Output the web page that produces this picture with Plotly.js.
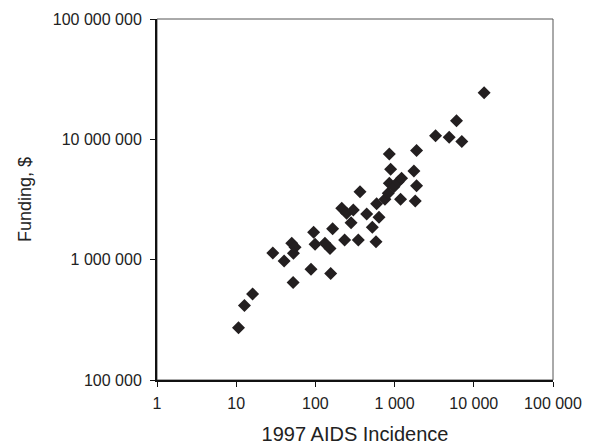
<!DOCTYPE html>
<html>
<head>
<meta charset="utf-8">
<script src="https://cdn.plot.ly/plotly-3.0.1.min.js"></script>
<style>html,body{margin:0;padding:0;background:#fff;}#chart{width:594px;height:445px;}</style>
</head>
<body>
<div id="chart"></div>
<script>
// 1997 AIDS incidence (x) vs funding in $ (y)
const incidence = [10.7, 12.7, 16.1, 29, 40.3, 50.3, 55.4, 52.8, 52.3, 88, 95, 99, 132, 153, 156, 165,
  215, 234, 248, 301, 282, 348, 366, 444, 523, 582, 593, 635, 755, 832, 857, 891, 857, 981, 1113, 1225,
  1190, 1753, 1894, 1894, 1822, 3288, 4890, 6050, 7060, 13500];
const funding = [272000, 417000, 519000, 1135000, 975000, 1370000, 1270000, 1130000, 645000, 832000, 1690000,
  1340000, 1370000, 1240000, 769000, 1810000, 2670000, 1460000, 2430000, 2590000, 2030000, 1460000, 3670000,
  2400000, 1860000, 1410000, 2910000, 2250000, 3170000, 3560000, 7550000, 5640000, 4310000, 4040000, 4450000,
  4740000, 3170000, 5460000, 8060000, 4120000, 3070000, 10700000, 10400000, 14300000, 9600000, 24400000];
const xTickVals = [1, 10, 100, 1000, 10000, 100000];
const xTickText = ['1', '10', '100', '1 000', '10 000', '100 000'];
const yTickVals = [100000, 1000000, 10000000, 100000000];
const yTickText = ['100 000', '1 000 000', '10 000 000', '100 000 000'];

const font = 'Liberation Sans, Arial, sans-serif';
const trace = {
  x: incidence, y: funding, type: 'scatter', mode: 'markers',
  marker: {symbol: 'diamond', size: 10, color: '#231f20', line: {width: 0}},
  hoverinfo: 'none'
};
const layout = {
  width: 594, height: 445,
  margin: {l: 157, r: 41, t: 19, b: 65},
  paper_bgcolor: '#fff', plot_bgcolor: '#fff',
  showlegend: false,
  font: {family: font, color: '#222', size: 16},
  xaxis: {
    type: 'log', range: [0, 5], tickvals: xTickVals, ticktext: xTickText,
    showgrid: false, zeroline: false, showline: true, linecolor: '#111', linewidth: 2,
    ticks: 'outside', ticklen: 5, tickcolor: '#111', tickwidth: 1, ticklabelstandoff: 3,
    tickfont: {family: font, size: 16, color: '#222'},
    title: {text: '1997 AIDS Incidence', font: {family: font, size: 20, color: '#222'}, standoff: 16},
    automargin: false
  },
  yaxis: {
    type: 'log', range: [5, 8], tickvals: yTickVals, ticktext: yTickText,
    showgrid: false, zeroline: false, showline: true, linecolor: '#111', linewidth: 2,
    ticks: 'outside', ticklen: 5, tickcolor: '#111', tickwidth: 1, ticklabelstandoff: 5,
    tickfont: {family: font, size: 16, color: '#222'},
    title: {text: 'Funding, $', font: {family: font, size: 18, color: '#222'}, standoff: 17},
    automargin: false
  },
  shapes: [{type: 'rect', xref: 'paper', yref: 'paper', x0: 0, x1: 1, y0: 0, y1: 1,
    line: {color: '#555', width: 1}, layer: 'below'}]
};
Plotly.newPlot('chart', [trace], layout, {staticPlot: true, displayModeBar: false});
</script>
</body>
</html>
